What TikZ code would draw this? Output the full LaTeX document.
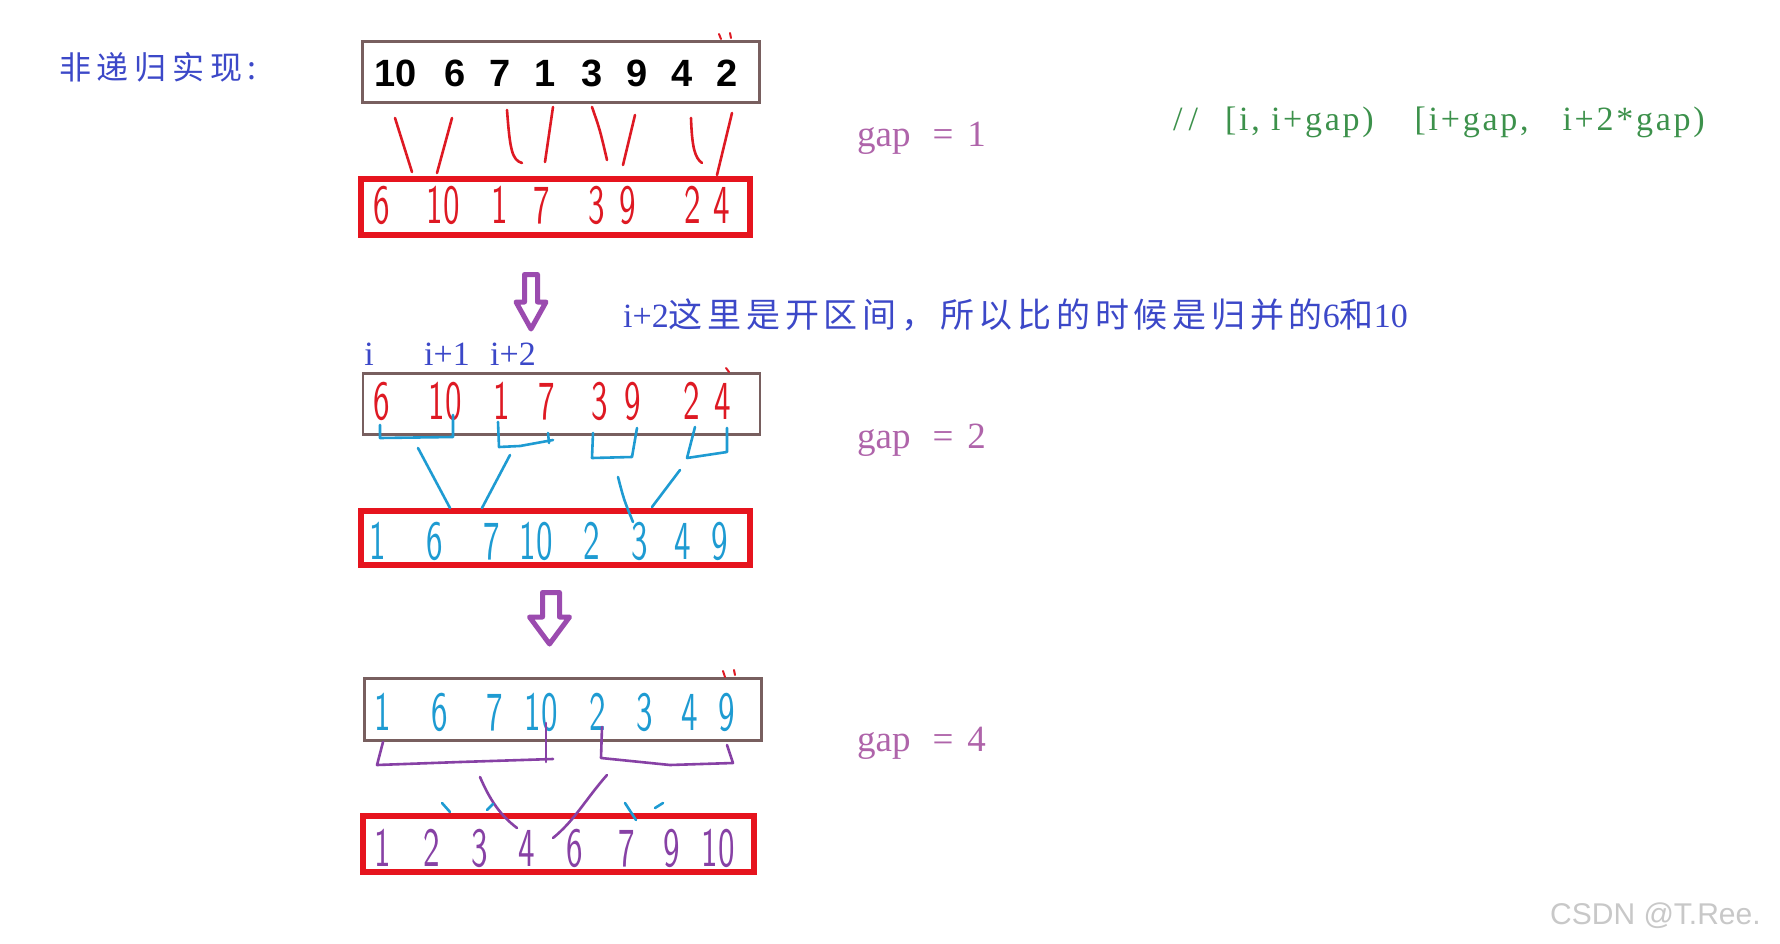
\documentclass[tikz,border=0pt]{standalone}
\usepackage{fontspec}
\newfontfamily\cjktitle[LetterSpace=18]{Noto Sans CJK SC}
\newfontfamily\cjkline[LetterSpace=14]{Noto Sans CJK SC}
\newfontfamily\lserif{Liberation Serif}
\newfontfamily\cmtfont[LetterSpace=8]{Liberation Serif}
\newfontfamily\boldsans{Liberation Sans}
\newfontfamily\handfont[FakeStretch=0.6]{lmsans10-regular.otf}
\newfontfamily\wmfont{Liberation Sans}
\definecolor{titleblue}{RGB}{60,72,200}
\definecolor{boxred}{RGB}{230,20,30}
\definecolor{handred}{RGB}{222,25,35}
\definecolor{handblue}{RGB}{30,155,210}
\definecolor{handpurple}{RGB}{135,65,165}
\definecolor{arrowpurple}{RGB}{155,75,175}
\definecolor{gapcol}{RGB}{175,100,170}
\definecolor{cmtgreen}{RGB}{60,145,75}
\definecolor{boxgray}{RGB}{120,95,95}
\definecolor{wmgray}{RGB}{200,200,200}
\begin{document}
\begin{tikzpicture}[x=1pt,y=-1pt,
  graybox/.style={draw=boxgray,line width=2.5,fill=white,inner sep=0,outer sep=0},
  redbox/.style={draw=boxred,line width=6.5,fill=white,inner sep=0,outer sep=0},
  topnum/.style={font=\boldsans\bfseries\fontsize{38}{44}\selectfont,anchor=base,inner sep=0},
  hand/.style={font=\handfont\fontsize{55}{60}\selectfont,anchor=base,inner sep=0},
  redline/.style={draw=handred,line width=2.6,line cap=round,line join=round},
  blueline/.style={draw=handblue,line width=2.6,line cap=round,line join=round},
  purpleline/.style={draw=handpurple,line width=2.6,line cap=round,line join=round},
  bigarrow/.style={draw=arrowpurple,line width=5,fill=white,line join=round},
  gaplabel/.style={font=\lserif\fontsize{37}{40}\selectfont,text=gapcol,anchor=base west,inner sep=0},
  ilabel/.style={font=\lserif\fontsize{34}{40}\selectfont,text=titleblue,anchor=base,inner sep=0}]
\useasboundingbox[fill=white] (0,0) rectangle (1780,944);

% title
\node[font=\cjktitle\fontsize{32}{38}\selectfont,text=titleblue,anchor=base west,inner sep=0] (title) at (59,80) {非递归实现:};

% boxes
\node[graybox,minimum width=397,minimum height=61] (b1) at (561,72) {};
\node[redbox,minimum width=389,minimum height=56] (r1) at (555.5,207) {};
\node[graybox,minimum width=397,minimum height=61] (b2) at (561.5,404) {};
\node[redbox,minimum width=389,minimum height=54] (r2) at (555.5,538) {};
\node[graybox,minimum width=397,minimum height=62] (b3) at (563,709.5) {};
\node[redbox,minimum width=391,minimum height=56] (r3) at (558.5,844) {};

% top numbers
\node[topnum] (t1) at (396,87) {10};
\node[topnum] (t2) at (455,87) {6};
\node[topnum] (t3) at (500,87) {7};
\node[topnum] (t4) at (545,87) {1};
\node[topnum] (t5) at (592,87) {3};
\node[topnum] (t6) at (637,87) {9};
\node[topnum] (t7) at (682,87) {4};
\node[topnum] (t8) at (727,87) {2};

% red box 1 digits
\begin{scope}[every node/.append style={text=handred}]
\node[hand] (a1) at (382,224) {6};
\node[hand] (a2) at (443,224) {10};
\node[hand] (a3) at (500,224) {1};
\node[hand] (a4) at (542,224) {7};
\node[hand] (a5) at (597,224) {3};
\node[hand] (a6) at (628,224) {9};
\node[hand] (a7) at (693,224) {2};
\node[hand] (a8) at (722,224) {4};
% box 2 digits
\node[hand] (c1) at (382,419) {6};
\node[hand] (c2) at (445,419) {10};
\node[hand] (c3) at (502,419) {1};
\node[hand] (c4) at (547,419) {7};
\node[hand] (c5) at (600,419) {3};
\node[hand] (c6) at (633,419) {9};
\node[hand] (c7) at (692,419) {2};
\node[hand] (c8) at (723,419) {4};
\end{scope}

\begin{scope}[every node/.append style={text=handblue}]
\node[hand] (d1) at (378,559) {1};
\node[hand] (d2) at (435,559) {6};
\node[hand] (d3) at (492,559) {7};
\node[hand] (d4) at (536,559) {10};
\node[hand] (d5) at (592,559) {2};
\node[hand] (d6) at (640,559) {3};
\node[hand] (d7) at (683,559) {4};
\node[hand] (d8) at (720,559) {9};
\node[hand] (e1) at (383,730) {1};
\node[hand] (e2) at (440,730) {6};
\node[hand] (e3) at (495,730) {7};
\node[hand] (e4) at (541,730) {10};
\node[hand] (e5) at (598,730) {2};
\node[hand] (e6) at (645,730) {3};
\node[hand] (e7) at (690,730) {4};
\node[hand] (e8) at (727,730) {9};
\end{scope}

\begin{scope}[every node/.append style={text=handpurple}]
\node[hand] (f1) at (383,866) {1};
\node[hand] (f2) at (432,866) {2};
\node[hand] (f3) at (480,866) {3};
\node[hand] (f4) at (527,866) {4};
\node[hand] (f5) at (575,866) {6};
\node[hand] (f6) at (627,866) {7};
\node[hand] (f7) at (672,866) {9};
\node[hand] (f8) at (718,866) {10};
\end{scope}

% red strokes gap=1
\draw[redline] (395,118) -- (412,172);
\draw[redline] (452,118) -- (437,173);
\draw[redline] (507,110) .. controls (510,150) and (512,160) .. (522,163);
\draw[redline] (553,107) -- (545,162);
\draw[redline] (592,107) .. controls (600,130) .. (607,160);
\draw[redline] (635,115) -- (623,165);
\draw[redline] (691,118) .. controls (692,148) and (695,158) .. (702,163);
\draw[redline] (732,113) -- (717,175);
\draw[redline,line width=2] (719,34) -- (721,39) (730,33) -- (731,38);
\draw[redline,line width=2] (726,368) -- (729,372);
\draw[redline,line width=2] (723,671) -- (725,677) (734,670) -- (735,675);

% blue strokes gap=2
\draw[blueline] (380,425) -- (380,438) -- (453,437) -- (453,415);
\draw[blueline] (498,422) -- (499,447) -- (520,446) -- (553,440);
\draw[blueline] (548,433) -- (549,443);
\draw[blueline] (593,433) -- (592,458) -- (632,457) -- (637,428);
\draw[blueline] (695,427) -- (687,458) -- (727,452) -- (727,428);
\draw[blueline] (418,448) -- (450,508);
\draw[blueline] (510,455) -- (482,508);
\draw[blueline] (618,477) .. controls (624,500) .. (633,522);
\draw[blueline] (680,470) -- (652,507);

% purple strokes gap=4
\draw[purpleline] (383,742) -- (377,765) -- (460,762) -- (553,759);
\draw[purpleline] (546,723) -- (546,762);
\draw[purpleline] (602,727) -- (601,758) -- (670,765) -- (733,763) -- (727,745);
\draw[purpleline] (480,777) .. controls (490,800) and (500,815) .. (517,828);
\draw[purpleline] (607,775) .. controls (585,800) and (575,820) .. (553,838);
\draw[blueline] (442,803) -- (450,812);
\draw[blueline] (487,810) -- (493,804);
\draw[blueline] (625,803) -- (636,820);
\draw[blueline] (655,808) -- (663,803);

% arrows
\draw[bigarrow] (524.5,274.5) -- (537.5,274.5) -- (537.5,302) -- (546,302) -- (531,329) -- (516,302) -- (524.5,302) -- cycle;
\draw[bigarrow] (542.5,592.5) -- (559.5,592.5) -- (559.5,617) -- (569.5,617) -- (549.5,644) -- (529.5,617) -- (542.5,617) -- cycle;

% labels
\node[font=\fontsize{34}{40}\selectfont,text=titleblue,anchor=base west,inner sep=0] (note) at (623,327) {\lserif i+2\cjkline 这里是开区间，所以比的时候是归并的\lserif 6\cjkline 和\lserif 10};
\node[ilabel] (li) at (369,365) {i};
\node[ilabel] (li1) at (447,365) {i+1};
\node[ilabel] (li2) at (513,365) {i+2};

\node[gaplabel] (g1) at (857,147) {gap\hspace{22pt}=\hspace{14pt}1};
\node[gaplabel] (g2) at (857,448) {gap\hspace{22pt}=\hspace{14pt}2};
\node[gaplabel] (g4) at (857,751) {gap\hspace{22pt}=\hspace{14pt}4};

\node[font=\cmtfont\fontsize{34}{40}\selectfont,text=cmtgreen,anchor=base west,inner sep=0] (cmt) at (1173,131) {/\hspace{6pt}/\hspace{27pt}[i, i+gap)\hspace{41pt}[i+gap,\hspace{34pt}i+2*gap)};

\node[font=\wmfont\fontsize{30}{36}\selectfont,text=wmgray,anchor=base west,inner sep=0] (wm) at (1550,924) {CSDN @T.Ree.};
\end{tikzpicture}
\end{document}
